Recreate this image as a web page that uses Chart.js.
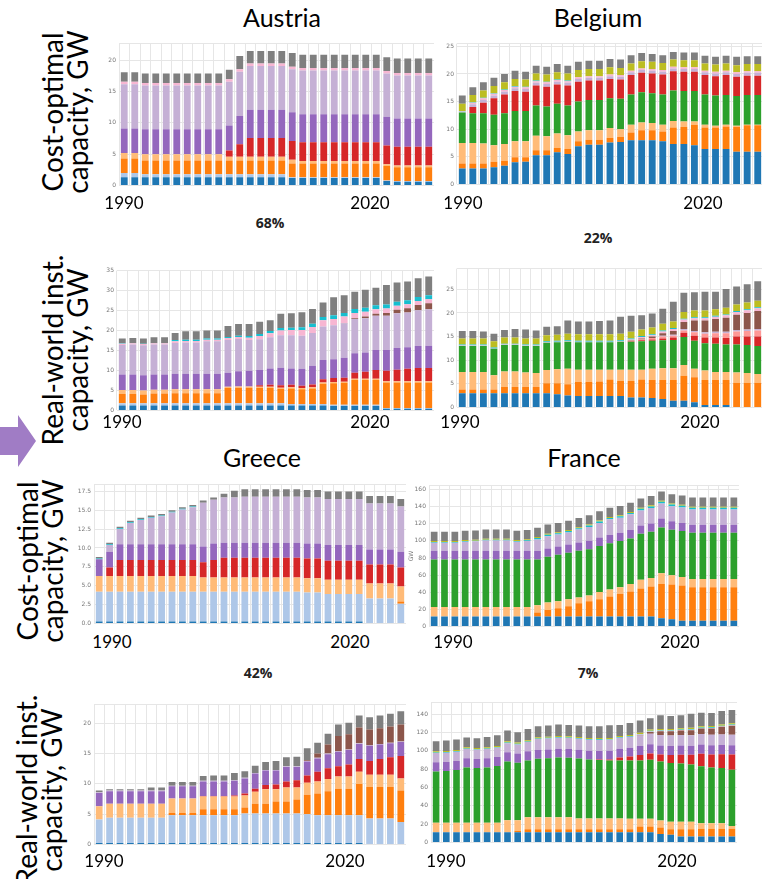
<!DOCTYPE html>
<html>
<head>
<meta charset="utf-8">
<script src="https://cdn.jsdelivr.net/npm/chart.js@4.4.1/dist/chart.umd.min.js"></script>
<style>
  html, body { margin: 0; padding: 0; background: #fff; }
  body { position: relative; width: 762px; height: 879px; overflow: hidden; font-family: Lato, "Open Sans", sans-serif; }
  canvas { position: absolute; }
  .txt { position: absolute; transform: translate(-50%, -50%); white-space: nowrap; color: #000; }
  .title { font-size: 25px; }
  .pct { font-family: "Open Sans", sans-serif; font-weight: bold; font-size: 14px; color: #222; }
  .year { font-size: 17px; }
  .side { font-size: 28px; line-height: 25px; text-align: center; transform: translate(-50%, -50%) rotate(-90deg); }
</style>
</head>
<body>
<svg style="position:absolute;left:0;top:0" width="40" height="879">
  <polygon points="0,427 18,427 18,415 36,441 18,467 18,455 0,455" fill="#a07cc5"></polygon>
</svg>
<script>
// bar categories (30 years per panel, Belgium panels are cut after 29)
const years_30 = ["1990","1991","1992","1993","1994","1995","1996","1997","1998","1999","2000","2001","2002","2003","2004","2005","2006","2007","2008","2009","2010","2011","2012","2013","2014","2015","2016","2017","2018","2019"];
const years_29 = years_30.slice(0, 29);

// y tick labels
const at_opt_ticks = [0, 5, 10, 15, 20];
const be_opt_ticks = [0, 5, 10, 15, 20, 25];
const at_real_ticks = [0, 5, 10, 15, 20, 25, 30, 35];
const be_real_ticks = [0, 5, 10, 15, 20, 25];
const gr_opt_ticks = [0, 2.5, 5, 7.5, 10, 12.5, 15, 17.5];
const fr_opt_ticks = [0, 20, 40, 60, 80, 100, 120, 140, 160];
const gr_real_ticks = [0, 5, 10, 15, 20];
const fr_real_ticks = [0, 20, 40, 60, 80, 100, 120, 140];

// ---- Austria, cost-optimal (GW)
const at_opt_blue = [1.3,1.3,1.3,1.3,1.3,1.3,1.3,1.3,1.3,1.3,1.3,1.3,1.3,1.3,1.3,1.3,1.2,1.2,1.2,1.2,1.2,1.2,1.2,1.2,1.2,0.7,0.6,0.6,0.6,0.6];
const at_opt_light_blue = [0.7,0.7,0.5,0.5,0.5,0.5,0.5,0.5,0.5,0.5,0.5,0.5,0.5,0.5,0.5,0.5,0.1,0.1,0.1,0.1,0.1,0.1,0.1,0.1,0.1,0.1,0.1,0.1,0.1,0.1];
const at_opt_orange = [2.3,2.3,2.2,2.2,2.2,2.2,2.2,2.2,2.2,2.2,2.2,2.2,2.2,2.2,2.2,2.2,2.2,2.2,2.2,2.2,2.2,2.2,2.2,2.2,2.2,2.3,2.2,2.2,2.2,2.2];
const at_opt_light_orange = [0.9,0.9,1.0,1.0,1.0,1.0,1.0,1.0,1.0,1.0,0.6,0.6,0.6,0.6,0.6,0.6,0.6,0.4,0.4,0.4,0.4,0.4,0.4,0.4,0.4,0.3,0.3,0.3,0.3,0.3];
const at_opt_red = [0,0,0,0,0,0,0,0,0,0,1.0,2.0,3.0,3.0,3.0,3.0,3.0,3.0,3.0,3.0,3.0,3.0,3.0,3.0,3.0,3.0,3.0,3.0,3.0,3.0];
const at_opt_purple = [3.9,3.9,4.0,4.0,4.0,4.0,4.0,4.0,4.0,4.0,4.0,4.5,4.5,4.5,4.5,4.5,4.6,4.5,4.5,4.5,4.5,4.5,4.5,4.5,4.5,4.6,4.5,4.5,4.5,4.5];
const at_opt_light_purple = [7.1,7.1,7.0,7.0,7.0,7.0,7.0,7.0,7.0,7.0,7.0,7.1,7.0,7.0,7.0,7.0,6.9,7.0,7.0,7.0,7.0,7.0,7.0,7.0,7.0,6.9,6.9,6.9,6.9,6.9];
const at_opt_pink = [0.4,0.4,0.4,0.4,0.4,0.4,0.4,0.4,0.4,0.4,0.4,0.4,0.4,0.4,0.4,0.4,0.4,0.4,0.4,0.4,0.4,0.4,0.4,0.4,0.4,0.4,0.4,0.4,0.4,0.4];
const at_opt_gray = [1.5,1.5,1.5,1.5,1.5,1.5,1.5,1.5,1.5,1.5,1.5,2.1,2.0,2.0,2.0,2.0,2.2,2.1,2.1,2.1,2.1,2.1,2.1,2.1,2.1,2.2,2.3,2.3,2.3,2.3];

// ---- Belgium, cost-optimal
const be_opt_blue = [2.9,2.9,2.9,3.1,3.4,4.0,4.1,5.3,5.3,5.8,5.5,6.9,7.2,7.2,7.6,7.7,8.0,8.0,8.0,7.8,7.3,7.3,7.1,6.4,6.4,6.4,5.9,5.9,5.9];
const be_opt_orange = [0.9,0.9,0.9,1.0,0.9,0.9,0.8,0.9,0.9,0.8,0.9,0.9,0.9,0.9,0.8,0.9,1.4,1.8,1.8,1.8,3.0,3.1,3.7,3.9,3.9,4.1,4.5,4.8,4.8];
const be_opt_light_orange = [3.7,3.7,3.6,3.0,3.0,2.9,2.9,2.6,2.5,2.6,2.5,1.8,1.7,1.7,1.8,1.4,1.4,1.4,1.3,1.2,1.2,1.0,0.6,0.5,0.3,0.3,0.2,0.1,0.1];
const be_opt_green = [5.5,5.4,5.5,5.5,5.6,5.5,5.5,5.5,5.4,5.4,5.4,5.4,5.5,5.5,5.4,5.5,5.5,5.5,5.4,5.5,5.5,5.5,5.5,5.5,5.5,5.4,5.4,5.4,5.4];
const be_opt_red = [0,1.1,1.9,3.0,3.4,3.6,3.5,3.6,3.6,3.5,3.6,3.6,3.5,3.5,3.5,3.5,3.5,3.5,3.6,3.6,3.5,3.5,3.5,3.5,3.5,3.6,3.5,3.5,3.5];
const be_opt_pink = [0.1,0.3,0.3,0.3,0.3,0.3,0.3,0.3,0.3,0.3,0.3,0.3,0.3,0.3,0.3,0.3,0.3,0.3,0.3,0.3,0.3,0.3,0.3,0.3,0.3,0.3,0.3,0.3,0.3];
const be_opt_light_purple = [0.1,0.5,0.5,0.5,0.5,0.5,0.5,0.5,0.5,0.5,0.5,0.5,0.5,0.5,0.5,0.5,0.5,0.5,0.5,0.5,0.5,0.5,0.5,0.5,0.5,0.5,0.5,0.5,0.5];
const be_opt_cyan = [0.1,0.1,0.1,0.1,0.1,0.1,0.1,0.1,0.1,0.1,0.1,0,0,0,0,0,0,0,0,0,0,0,0,0,0,0,0,0,0];
const be_opt_olive = [1.3,1.3,1.3,1.3,1.3,1.3,1.3,1.3,1.3,1.3,1.3,1.3,1.3,1.3,1.3,1.3,1.3,1.3,1.3,1.3,1.3,1.3,1.3,1.3,1.3,1.3,1.3,1.3,1.3];
const be_opt_gray = [1.5,1.4,1.5,1.5,1.5,1.5,1.4,1.4,1.4,1.5,1.4,1.5,1.5,1.5,1.5,1.5,1.5,1.5,1.4,1.4,1.4,1.4,1.4,1.4,1.4,1.4,1.5,1.4,1.4];

// ---- Austria, real-world
const at_real_blue = [1.2,1.2,1.2,1.2,1.2,1.2,1.2,1.2,1.2,1.2,1.2,1.2,1.2,1.2,1.2,1.2,1.2,1.2,1.2,1.2,1.1,1.1,1.1,1.1,1.1,0.4,0.4,0.4,0.4,0.4];
const at_real_light_blue = [0.6,0.6,0.6,0.6,0.6,0.6,0.6,0.6,0.6,0.6,0.6,0.6,0.6,0.6,0.6,0.6,0.4,0.4,0.4,0.4,0.3,0.3,0.3,0.3,0.3,0.2,0.2,0.2,0.2,0.2];
const at_real_orange = [2.3,2.3,2.2,2.4,2.4,2.5,2.5,2.5,2.5,2.5,3.8,3.9,3.9,3.8,3.8,3.6,3.9,3.7,3.9,5.1,5.4,5.5,6.2,6.2,6.2,6.4,6.4,6.4,6.4,6.4];
const at_real_light_orange = [1.0,1.0,1.0,1.0,1.0,1.0,1.0,1.0,1.0,1.0,0.3,0.3,0.3,0.3,0.3,0.3,0.3,0.3,0.3,0.3,0.3,0.3,0.3,0.3,0.3,0.3,0.3,0.3,0.3,0.3];
const at_real_red = [0,0,0,0,0,0,0,0,0,0,0,0,0,0.4,0.5,0.6,0.6,0.6,0.7,0.8,1.0,1.0,1.5,1.8,2.2,2.6,2.9,3.1,3.3,3.3];
const at_real_purple = [3.9,3.9,3.8,3.8,3.8,3.9,3.9,3.9,3.9,3.9,3.5,3.8,3.9,3.8,4.1,4.4,4.1,4.2,4.7,4.8,4.7,5.0,4.9,4.8,5.0,5.2,5.4,5.4,5.5,5.6];
const at_real_light_purple = [7.4,7.5,7.5,7.5,7.5,7.7,7.8,7.8,8.1,8.1,8.2,8.1,7.7,7.7,7.8,8.1,8.3,8.3,8.2,8.4,8.5,8.6,8.6,8.6,8.6,8.6,8.7,8.7,9.0,9.1];
const at_real_brown = [0,0,0,0,0,0,0,0,0,0,0,0,0,0,0,0,0,0,0,0,0,0.1,0.2,0.4,0.5,0.7,0.9,1.1,1.3,1.5];
const at_real_pink = [0.3,0.3,0.3,0.3,0.3,0.4,0.4,0.4,0.4,0.4,0.5,0.5,0.6,0.8,1.0,1.2,1.3,1.4,1.5,1.6,1.6,1.6,1.3,1.2,1.1,1.1,1.0,1.0,1.0,1.0];
const at_real_cyan = [0.1,0.1,0.1,0.1,0.1,0.3,0.3,0.3,0.3,0.3,0.3,0.3,0.4,0.5,0.6,0.6,0.6,0.7,0.8,0.8,0.9,0.9,1.0,1.0,1.0,1.0,1.0,1.0,1.0,1.0];
const at_real_gray = [1.2,1.2,1.3,1.4,1.4,1.8,2.1,2.1,2.0,2.0,2.7,2.9,3.0,3.1,2.7,3.6,3.6,3.8,3.7,3.6,4.5,4.4,4.3,4.5,4.4,4.9,4.8,4.7,4.7,4.7];

// ---- Belgium, real-world
const be_real_blue = [3.0,3.0,3.0,3.0,3.0,3.0,3.0,3.0,3.0,2.8,2.5,2.4,2.4,2.4,2.4,2.4,2.1,2.1,2.0,1.8,1.4,1.4,1.1,0.5,0.5,0.5,0.1,0.1,0.1];
const be_real_orange = [0.8,0.8,0.8,0.8,1.3,1.3,1.3,1.3,2.1,2.3,2.4,3.0,3.0,3.1,3.5,3.2,3.5,3.8,3.8,4.0,4.4,5.3,5.3,5.3,5.3,5.3,5.1,5.1,5.1];
const be_real_light_orange = [3.7,3.7,3.7,3.0,3.3,3.3,3.1,3.0,2.8,3.0,3.3,2.6,2.6,2.5,2.1,2.4,2.4,2.1,2.4,2.5,2.5,2.3,1.8,2.0,1.7,1.7,2.2,2.1,1.9];
const be_real_green = [5.5,5.5,5.5,5.6,5.6,5.6,5.6,5.7,5.8,5.7,5.7,5.8,5.8,5.8,5.8,5.9,5.9,6.0,5.9,5.9,6.0,5.9,5.9,5.8,6.0,5.8,5.9,5.9,5.9];
const be_real_red = [0,0,0,0,0,0,0,0,0,0,0,0,0,0,0,0,0.1,0.2,0.3,0.4,0.5,0.9,1.1,1.2,1.3,1.4,1.7,1.8,2.0];
const be_real_light_red = [0,0,0,0,0,0,0,0,0,0,0,0,0,0,0,0,0.1,0.2,0.3,0.4,0.4,0.5,0.7,0.8,0.9,1.0,1.1,1.2,1.3];
const be_real_brown = [0,0,0,0,0,0,0,0,0,0,0,0,0,0,0,0,0.1,0.2,0.3,0.5,0.8,1.5,2.2,2.5,2.7,3.0,3.2,3.5,3.8];
const be_real_pink = [0.1,0.1,0.1,0.1,0.1,0.1,0.1,0.1,0.1,0.1,0.1,0.1,0.1,0.1,0.1,0.1,0.2,0.3,0.3,0.4,0.4,0.5,0.5,0.5,0.5,0.5,0.6,0.6,0.6];
const be_real_light_purple = [0,0,0,0,0,0,0,0,0,0,0,0,0,0,0,0,0,0,0,0.2,0.2,0.3,0.3,0.3,0.3,0.3,0.3,0.3,0.3];
const be_real_cyan = [0.2,0.2,0.2,0.2,0.2,0.2,0.2,0.2,0.2,0.2,0.2,0.2,0.2,0.2,0.2,0.2,0.2,0.2,0.2,0.2,0.2,0.2,0.2,0.2,0.2,0.2,0.2,0.2,0.2];
const be_real_olive = [1.3,1.3,1.3,1.3,1.3,1.3,1.3,1.3,1.3,1.3,1.4,1.4,1.4,1.4,1.4,1.4,1.4,1.4,1.4,1.4,1.4,1.4,1.4,1.4,1.4,1.4,1.4,1.4,1.4];
const be_real_gray = [1.6,1.6,1.5,1.6,1.6,1.8,1.9,1.7,1.8,1.8,2.8,2.7,2.7,2.8,2.9,3.6,3.4,3.0,3.0,3.2,4.2,4.1,3.9,4.0,3.7,4.0,3.8,3.9,4.1];

// ---- Greece, cost-optimal
const gr_opt_blue = [0.25,0.25,0.25,0.25,0.25,0.25,0.25,0.25,0.25,0.25,0.25,0.25,0.25,0.25,0.25,0.25,0.25,0.25,0.25,0.25,0.25,0.25,0.25,0.25,0.25,0.25,0,0,0,0];
const gr_opt_light_blue = [3.95,3.95,3.95,3.95,3.95,3.95,3.95,3.95,3.95,3.95,3.95,3.95,3.95,3.95,3.95,3.95,3.95,3.95,3.95,3.95,3.85,3.85,3.65,3.65,3.65,3.65,3.3,3.3,3.3,2.6];
const gr_opt_orange = [0,0,0,0,0,0,0,0,0,0,0,0,0,0,0,0,0,0,0,0,0,0,0,0,0,0,0,0,0,0.3];
const gr_opt_light_orange = [2.1,2.1,2.1,2.1,2.1,2.1,2.1,2.1,2.1,2.1,1.9,1.9,1.9,1.9,1.9,1.9,1.9,1.9,1.9,1.9,1.9,1.9,1.9,1.9,1.9,1.9,2.0,2.0,2.0,2.0];
const gr_opt_red = [0,1.1,2.1,2.1,2.1,2.1,2.1,2.1,2.1,2.1,2.0,2.3,2.6,2.6,2.6,2.6,2.6,2.6,2.6,2.6,2.6,2.6,2.5,2.5,2.5,2.5,2.5,2.5,2.5,2.5];
const gr_opt_purple = [2.2,2.1,2.1,2.1,2.1,2.1,2.1,2.1,2.1,2.1,2.1,2.2,2.0,2.0,2.0,2.0,2.0,2.0,2.0,2.0,2.0,2.0,2.1,2.1,2.1,2.1,2.0,2.0,2.0,2.1];
const gr_opt_light_purple = [0,0.9,2.0,2.8,3.2,3.5,3.7,4.2,4.6,4.9,5.8,5.8,6.0,6.0,6.1,6.1,6.1,6.1,6.1,6.1,6.1,6.1,6.1,6.1,6.1,6.1,6.1,6.1,6.1,6.0];
const gr_opt_cyan = [0.1,0.1,0.1,0.1,0.1,0.1,0.1,0.1,0.1,0.1,0,0,0,0,0,0,0,0,0,0,0,0,0,0,0,0,0,0,0,0];
const gr_opt_gray = [0.2,0.2,0.2,0.2,0.2,0.2,0.2,0.2,0.2,0.2,0.3,0.3,0.5,0.9,1.0,1.0,1.0,1.0,1.0,1.0,1.0,1.0,1.0,1.0,1.0,1.0,1.0,1.0,1.0,1.0];

// ---- France, cost-optimal
const fr_opt_blue = [11.6,11.6,11.6,11.6,11.6,11.6,11.6,11.6,11.6,11.6,11.6,11.6,11.6,11.6,11.6,11.6,11.6,11.6,11.6,11.6,11.6,11.6,9.6,8.5,6.6,6.6,6.6,6.6,6.6,6.6];
const fr_opt_orange = [0,0,0,0,0,0,0,0,0,0,4.6,7.7,9.6,11.9,15.4,17.7,20.0,23.5,26.6,29.3,32.7,35.0,40.1,40.5,41.2,39.3,39.3,39.3,39.3,39.3];
const fr_opt_light_orange = [11.1,11.1,11.1,11.1,11.1,11.1,11.1,11.1,11.1,11.1,8.5,8.5,8.1,8.1,6.9,6.9,8.5,8.1,7.7,8.8,10.1,10.1,12.4,10.8,10.0,9.6,9.6,9.6,9.6,9.6];
const fr_opt_green = [55.5,55.5,55.5,55.5,55.5,55.5,55.5,55.5,55.5,55.5,53.6,53.5,54.4,54.4,54.4,54.0,54.0,53.9,53.9,53.2,53.9,53.9,53.6,53.2,53.6,54.0,54.0,54.0,54.0,54.0];
const fr_opt_purple = [10.2,10.2,10.2,10.2,10.2,10.2,10.2,10.2,10.2,10.2,9.8,9.8,9.8,9.8,9.8,9.8,9.8,9.8,9.8,9.8,9.8,9.8,10.4,10.0,9.6,9.2,9.2,9.2,9.2,9.2];
const fr_opt_light_purple = [9.4,9.4,9.4,10.6,11.0,12.1,12.1,12.1,10.6,11.4,13.6,14.4,13.9,14.0,15.1,16.3,17.0,18.3,17.5,18.3,17.5,17.9,17.6,17.6,18.0,18.0,18.0,18.0,18.0,18.0];
const fr_opt_cyan = [0.8,0.8,0.8,0.8,0.8,0.8,0.8,0.8,0.8,0.8,1.6,1.6,1.6,1.6,1.6,1.6,1.6,1.6,1.6,1.6,2.0,2.0,2.0,2.0,2.0,2.0,2.0,2.0,2.0,2.0];
const fr_opt_olive = [1.2,1.2,1.2,1.2,1.2,1.2,1.2,1.2,1.2,1.2,1.2,1.2,1.2,1.2,1.2,1.2,1.2,1.2,1.2,1.2,1.2,1.2,1.2,1.2,1.2,1.2,1.2,1.2,1.2,1.2];
const fr_opt_gray = [10.8,10.8,10.8,10.8,10.8,10.8,10.8,10.8,10.8,10.8,10.8,10.8,10.8,10.8,10.8,10.8,10.8,10.8,10.8,10.8,10.8,10.8,10.8,10.8,10.8,10.8,10.8,10.8,10.8,10.8];

// ---- Greece, real-world
const gr_real_blue = [0.25,0.25,0.25,0.25,0.25,0.25,0.25,0.25,0.25,0.25,0.25,0.25,0.25,0.25,0.25,0.25,0.25,0.25,0.25,0.25,0.25,0.25,0.25,0.25,0.25,0.25,0,0,0,0];
const gr_real_light_blue = [3.85,4.15,4.15,4.15,4.15,4.15,4.15,4.55,4.55,4.55,4.55,4.55,4.55,4.55,4.85,4.85,4.85,4.85,4.85,4.85,4.75,4.55,4.55,4.55,4.55,4.55,4.3,4.3,4.3,3.7];
const gr_real_orange = [0,0,0,0,0,0,0,0.4,0.4,0.4,1.0,1.0,1.0,1.0,1.0,1.6,1.6,2.0,2.0,2.3,3.2,3.6,4.0,4.4,4.4,5.2,5.2,5.2,5.2,5.2];
const gr_real_light_orange = [2.2,2.3,2.3,2.3,2.3,2.3,2.3,2.4,2.4,2.4,2.1,2.1,2.1,2.1,2.0,2.0,2.4,2.0,2.3,2.0,2.0,2.0,2.0,2.0,2.0,2.0,2.0,2.0,2.0,2.0];
const gr_real_red = [0,0,0,0,0,0,0,0,0,0,0.1,0.1,0.1,0.2,0.3,0.5,0.7,0.8,1.0,1.2,1.2,1.6,1.8,1.7,2.0,2.1,2.3,2.6,2.9,3.7];
const gr_real_purple = [2.2,2.1,2.1,2.1,2.1,2.1,2.1,2.0,2.0,2.0,2.4,2.4,2.4,2.4,2.5,2.5,2.4,2.3,2.4,2.2,2.3,2.2,2.3,2.4,2.4,2.5,2.5,2.4,2.3,2.3];
const gr_real_light_purple = [0.1,0.1,0.1,0.1,0.1,0.1,0.1,0.1,0.1,0.1,0.1,0.1,0.1,0.1,0.1,0.1,0.1,0.1,0.1,0.1,0.1,0.1,0.1,0.1,0.1,0.1,0.1,0.1,0.1,0.1];
const gr_real_brown = [0,0,0,0,0,0,0,0,0,0,0,0,0,0,0,0,0,0,0,0,0.1,0.7,1.5,2.5,2.5,2.6,2.6,2.6,2.7,2.8];
const gr_real_gray = [0.3,0.2,0.2,0.2,0.2,0.5,0.5,0.6,0.6,0.6,0.8,0.9,0.9,1.2,1.1,1.2,1.3,1.5,1.5,1.6,2.0,1.8,1.8,1.9,1.9,2.0,2.0,2.1,2.1,2.2];

// ---- France, real-world
const fr_real_blue = [11.2,11.2,11.2,11.2,11.2,11.2,11.2,11.2,11.2,11.2,11.2,11.2,11.2,11.2,11.2,11.2,11.2,11.2,11.2,11.2,11.2,11.2,9.1,8.3,6.5,6.5,6.5,6.5,6.5,6.5];
const fr_real_orange = [0,0,0,0,0,0,0,0,1.5,3.3,3.3,3.3,3.3,3.3,3.3,3.3,3.3,3.3,3.3,3.3,6.2,6.2,7.2,6.2,8.0,8.0,8.4,8.4,8.4,8.4];
const fr_real_light_orange = [10.2,10.2,10.2,10.2,10.2,10.2,10.2,13.1,11.6,13.1,13.1,13.1,13.1,13.1,11.6,11.6,11.6,11.6,11.6,11.3,8.4,8.4,7.6,8.0,8.0,8.0,6.1,6.1,6.1,2.9];
const fr_real_green = [56.2,56.6,57.7,60.6,59.8,60.6,62.0,64.2,62.8,62.0,63.8,64.5,65.3,64.9,65.7,64.6,63.9,63.5,63.5,63.8,63.8,64.5,64.6,64.2,63.8,62.7,62.1,61.0,60.2,61.6];
const fr_real_red = [0,0,0,0,0,0,0,0,0,0,0,0,0,0,0,0,0.5,1.0,3.3,4.4,5.8,7.0,7.5,8.7,9.5,10.5,13.8,14.1,15.2,16.7];
const fr_real_purple = [10.0,10.0,10.0,10.0,10.0,10.0,10.0,10.0,10.0,10.0,9.5,9.5,9.5,9.5,9.5,9.5,9.5,9.5,9.5,9.5,10.0,10.0,10.0,10.0,10.0,10.0,10.0,10.0,10.0,10.0];
const fr_real_light_purple = [10.0,10.0,10.0,10.0,10.0,10.0,10.0,10.0,10.0,10.0,12.0,12.0,12.0,12.0,12.0,12.0,12.0,12.0,12.0,12.0,11.5,11.5,11.5,11.5,11.5,11.5,11.5,11.5,11.5,11.5];
const fr_real_brown = [0,0,0,0,0,0,0,0,0,0,0,0,0,0,0,0,0,0,0,0,0.5,2.0,4.0,4.5,5.0,5.5,6.0,7.0,8.5,10.0];
const fr_real_pink = [0,0,0,0,0,0,0,0,0,0,0,0,0,0,0,0,0,0,0,0,0.5,0.5,0.5,0.5,0.5,0.5,0.5,0.5,0.5,0.5];
const fr_real_cyan = [0.7,0.7,0.7,0.7,0.7,0.7,0.7,0.7,0.7,0.7,0.7,0.7,0.7,0.7,0.7,0.7,0.7,0.7,0.7,0.7,0.7,0.7,0.7,0.7,0.7,0.7,0.7,0.7,0.7,0.7];
const fr_real_olive = [1.3,1.3,1.3,1.3,1.3,1.3,1.3,1.3,1.3,1.3,1.3,1.3,1.3,1.3,1.3,1.3,1.3,1.3,1.3,1.3,1.3,1.3,1.3,1.3,1.3,1.3,1.3,1.3,1.3,1.3];
const fr_real_gray = [11.0,11.4,11.3,10.6,10.7,11.3,11.8,11.7,11.3,12.4,12.0,12.1,12.4,12.4,12.4,12.7,12.9,13.9,12.0,13.1,13.2,12.4,14.9,14.3,14.1,15.5,14.9,14.4,14.7,14.6];

// stacking order, bottom to top (tab20 colours)
const series_order = [
  ["blue", "#1f77b4"], ["light_blue", "#aec7e8"], ["orange", "#ff7f0e"], ["light_orange", "#ffbb78"],
  ["green", "#2ca02c"], ["red", "#d62728"], ["light_red", "#ff9896"], ["purple", "#9467bd"],
  ["light_purple", "#c5b0d5"], ["brown", "#8c564b"], ["pink", "#f7b6d2"], ["cyan", "#17becf"],
  ["olive", "#bcbd22"], ["gray", "#7f7f7f"],
];

const panels = [
  { labels: years_30, ticks: at_opt_ticks, left: 119, right: 434, top: 43, zero: 186, max: 22.7,
    series: { blue: at_opt_blue, light_blue: at_opt_light_blue, orange: at_opt_orange, light_orange: at_opt_light_orange, red: at_opt_red, purple: at_opt_purple, light_purple: at_opt_light_purple, pink: at_opt_pink, gray: at_opt_gray } },
  { labels: years_29, ticks: be_opt_ticks, left: 457, right: 763, top: 43, zero: 185, max: 25.5,
    series: { blue: be_opt_blue, orange: be_opt_orange, light_orange: be_opt_light_orange, green: be_opt_green, red: be_opt_red, pink: be_opt_pink, light_purple: be_opt_light_purple, cyan: be_opt_cyan, olive: be_opt_olive, gray: be_opt_gray } },
  { labels: years_30, ticks: at_real_ticks, left: 117, right: 434, top: 270, zero: 411, max: 35,
    series: { blue: at_real_blue, light_blue: at_real_light_blue, orange: at_real_orange, light_orange: at_real_light_orange, red: at_real_red, purple: at_real_purple, light_purple: at_real_light_purple, brown: at_real_brown, pink: at_real_pink, cyan: at_real_cyan, gray: at_real_gray } },
  { labels: years_29, ticks: be_real_ticks, left: 457, right: 763, top: 268, zero: 408, max: 29.4,
    series: { blue: be_real_blue, orange: be_real_orange, light_orange: be_real_light_orange, green: be_real_green, red: be_real_red, light_red: be_real_light_red, brown: be_real_brown, pink: be_real_pink, light_purple: be_real_light_purple, cyan: be_real_cyan, olive: be_real_olive, gray: be_real_gray } },
  { labels: years_30, ticks: gr_opt_ticks, left: 94, right: 406, top: 484, zero: 624, max: 18.4, decimals: 1,
    series: { blue: gr_opt_blue, light_blue: gr_opt_light_blue, orange: gr_opt_orange, light_orange: gr_opt_light_orange, red: gr_opt_red, purple: gr_opt_purple, light_purple: gr_opt_light_purple, cyan: gr_opt_cyan, gray: gr_opt_gray } },
  { labels: years_30, ticks: fr_opt_ticks, left: 429, right: 739, top: 485, zero: 627, max: 164.6, y_title: "GW",
    series: { blue: fr_opt_blue, orange: fr_opt_orange, light_orange: fr_opt_light_orange, green: fr_opt_green, purple: fr_opt_purple, light_purple: fr_opt_light_purple, cyan: fr_opt_cyan, olive: fr_opt_olive, gray: fr_opt_gray } },
  { labels: years_30, ticks: gr_real_ticks, left: 94, right: 406, top: 704, zero: 845, max: 23.1,
    series: { blue: gr_real_blue, light_blue: gr_real_light_blue, orange: gr_real_orange, light_orange: gr_real_light_orange, red: gr_real_red, purple: gr_real_purple, light_purple: gr_real_light_purple, brown: gr_real_brown, gray: gr_real_gray } },
  { labels: years_30, ticks: fr_real_ticks, left: 431, right: 737, top: 702, zero: 843, max: 152.8,
    series: { blue: fr_real_blue, orange: fr_real_orange, light_orange: fr_real_light_orange, green: fr_real_green, red: fr_real_red, purple: fr_real_purple, light_purple: fr_real_light_purple, brown: fr_real_brown, pink: fr_real_pink, cyan: fr_real_cyan, olive: fr_real_olive, gray: fr_real_gray } },
];

const axis_w = 22;
const pad_top = 6;
const pad_bottom = 6;
const grid_color = "#e6e6e6";

const draw_panel = (p) => {
  const cv = document.createElement("canvas");
  const w = axis_w + (p.right - p.left);
  const h = (p.zero - p.top) + pad_top + pad_bottom;
  cv.width = w;
  cv.height = h;
  cv.style.left = (p.left - axis_w) + "px";
  cv.style.top = (p.top - pad_top) + "px";
  document.body.appendChild(cv);

  const datasets = series_order
    .filter(([key]) => p.series[key])
    .map(([key, color]) => ({
      label: key,
      data: p.series[key],
      backgroundColor: color,
      borderWidth: 0,
      barPercentage: 0.65,
      categoryPercentage: 1,
    }));

  new Chart(cv, {
    type: "bar",
    data: { labels: p.labels, datasets },
    options: {
      responsive: false,
      animation: false,
      layout: { padding: { top: pad_top, bottom: pad_bottom, left: 0, right: 0 } },
      plugins: { legend: { display: false }, tooltip: { enabled: false } },
      scales: {
        x: {
          stacked: true,
          ticks: { display: false },
          grid: { color: grid_color, drawTicks: false, offset: true },
          border: { display: false },
        },
        y: {
          stacked: true,
          min: 0,
          max: p.max,
          afterFit: (s) => { s.width = axis_w; },
          afterBuildTicks: (s) => {
            const vals = p.ticks.includes(p.max) ? p.ticks : p.ticks.concat([p.max]);
            s.ticks = vals.map((v) => ({ value: v }));
          },
          ticks: {
            font: { size: 6, family: "DejaVu Sans" },
            color: "#777",
            padding: 3,
            callback: (v) => (p.ticks.includes(v) ? v.toFixed(p.decimals || 0) : ""),
          },
          title: p.y_title ? { display: true, text: p.y_title, font: { size: 6, family: "DejaVu Sans" }, color: "#777", padding: 1 } : { display: false },
          grid: { color: grid_color, drawTicks: false },
          border: { display: false },
        },
      },
    },
  });
};

panels.forEach(draw_panel);

// text around the panels
const add_text = (cls, text, x, y) => {
  const d = document.createElement("div");
  d.className = "txt " + cls;
  d.innerHTML = text;
  d.style.left = x + "px";
  d.style.top = y + "px";
  document.body.appendChild(d);
};

const titles = [["Austria", 282, 17], ["Belgium", 598, 17], ["Greece", 262, 457], ["France", 584, 457]];
const shares = [["68%", 270, 222], ["22%", 598, 237], ["42%", 258, 672], ["7%", 588, 672]];
const year_marks = [
  ["1990", 124, 202], ["2020", 370, 202], ["1990", 463, 202], ["2020", 703, 202],
  ["1990", 122, 421], ["2020", 370, 421], ["1990", 460, 421], ["2020", 700, 421],
  ["1990", 112, 641], ["2020", 350, 641], ["1990", 453, 641], ["2020", 680, 641],
  ["1990", 104, 860], ["2020", 345, 860], ["1990", 446, 860], ["2020", 677, 860],
];
const side_labels = [
  ["Cost-optimal<br>capacity, GW", 65, 112],
  ["Real-world inst.<br>capacity, GW", 65, 350],
  ["Cost-optimal<br>capacity, GW", 40, 561],
  ["Real-world inst.<br>capacity, GW", 39, 790],
];

titles.forEach(([t, x, y]) => add_text("title", t, x, y));
shares.forEach(([t, x, y]) => add_text("pct", t, x, y));
year_marks.forEach(([t, x, y]) => add_text("year", t, x, y));
side_labels.forEach(([t, x, y]) => add_text("side", t, x, y));
</script>
</body>
</html>
